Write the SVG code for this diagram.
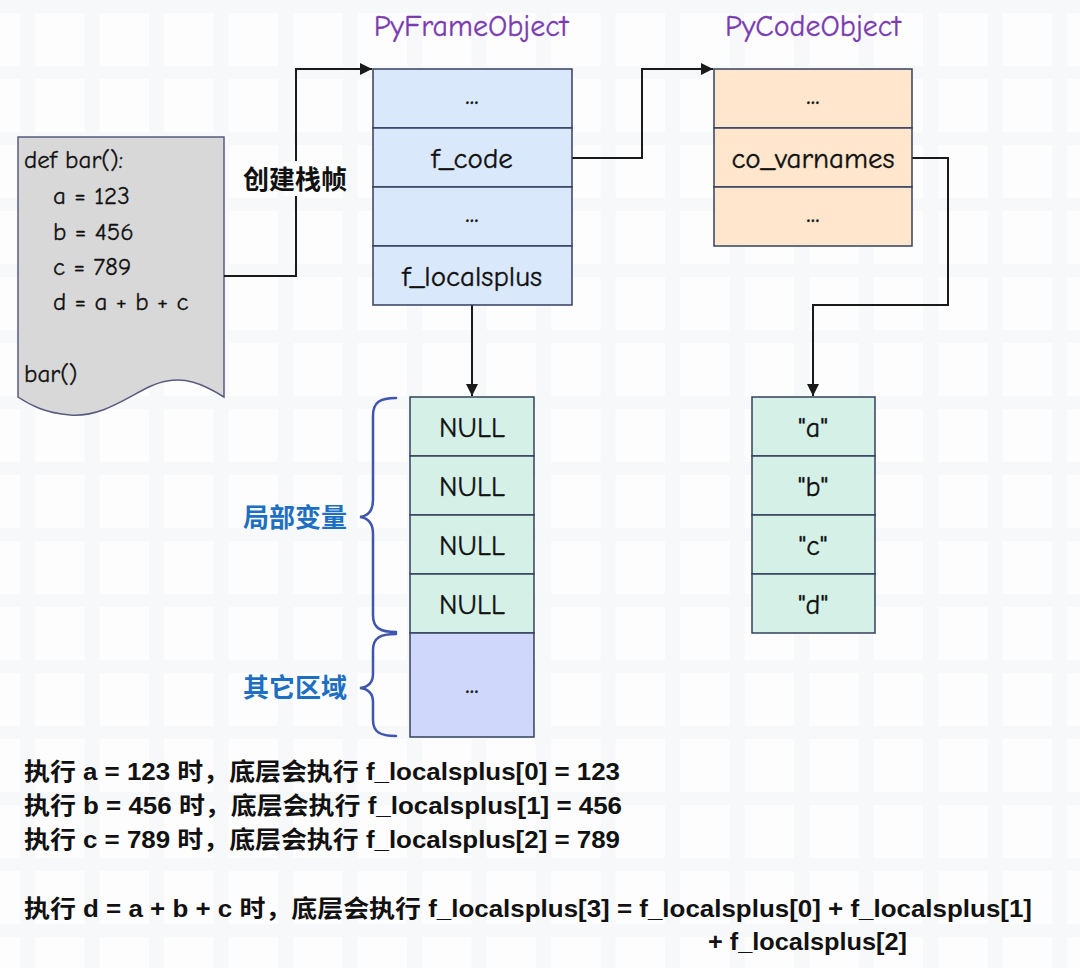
<svg xmlns="http://www.w3.org/2000/svg" width="1080" height="968" viewBox="0 0 1080 968">
<style>
.cell{stroke:#34405e;stroke-width:1.5}
.frame{fill:#dae8fc}
.code{fill:#ffe6cc}
.mint{fill:#d4f0e7}
.lav{fill:#cfd7fa}
.t{font-family:"Comic Neue","Lato","Liberation Sans",sans-serif;font-size:29px;fill:#111;text-anchor:middle;stroke:#111;stroke-width:0.35}
.s{font-size:28px}
.src{font-family:"Comic Neue","Lato","Liberation Sans",sans-serif;font-size:25px;fill:#111;stroke:#111;stroke-width:0.3}
.title{font-family:"Comic Neue","Lato","Liberation Sans",sans-serif;font-size:30px;fill:#7a3cb0;text-anchor:middle;stroke:#7a3cb0;stroke-width:0.3}
.conn{fill:none;stroke:#1a1a1a;stroke-width:2}
.brace{fill:none;stroke:#3f55ae;stroke-width:2.5;stroke-linecap:round}
.cn{font-family:"Noto Sans CJK SC",sans-serif;font-weight:bold;font-size:26px}
.note{font-family:"Liberation Sans","Noto Sans CJK SC",sans-serif;font-weight:bold;font-size:24px;fill:#111}
</style>
<defs>
<pattern id="grid" width="64.5" height="66" patternUnits="userSpaceOnUse" x="20" y="0">
<rect width="64.5" height="66" fill="#fdfdfd"/>
<rect x="0" y="0" width="15" height="66" fill="#f7f8f9"/>
<rect x="0" y="0" width="64.5" height="13" fill="#f7f8f9"/>
</pattern>
<marker id="arr" viewBox="0 0 10 10" refX="10" refY="5" markerWidth="6" markerHeight="6" orient="auto" markerUnits="strokeWidth">
<path d="M0,0 L10,5 L0,10 z" fill="#1a1a1a"/>
</marker>
</defs>
<rect width="1080" height="968" fill="url(#grid)"/>

<g id="code-doc">
<path d="M18,137 H224 V397 C200,382 185,378 167,381 C140,385 110,418 70,415 C45,413 30,405 18,397 Z" fill="#d8d8d8" stroke="#5a5a80" stroke-width="1.5"/>
<text class="src" x="24" y="168">def bar():</text>
<text class="src" x="53" y="204">a = 123</text>
<text class="src" x="53" y="240">b = 456</text>
<text class="src" x="53" y="275">c = 789</text>
<text class="src" x="53" y="310">d = a + b + c</text>
<text class="src" x="24" y="382">bar()</text>
</g>

<g id="connectors">
<path class="conn" d="M224,276 H296 V69 H372" marker-end="url(#arr)"/>
<path class="conn" d="M572,158 H642 V69 H713" marker-end="url(#arr)"/>
<path class="conn" d="M912,158 H948 V305 H813 V396" marker-end="url(#arr)"/>
<path class="conn" d="M472,305 V396" marker-end="url(#arr)"/>
<rect x="284" y="161" width="24" height="35" fill="#fdfdfd"/>
<text class="cn" x="295" y="189" text-anchor="middle" fill="#111">创建栈帧</text>
</g>

<g id="pyframe">
<text class="title" x="471" y="36">PyFrameObject</text>
<rect class="cell frame" x="373" y="69" width="199" height="59"/>
<rect class="cell frame" x="373" y="128" width="199" height="59"/>
<rect class="cell frame" x="373" y="187" width="199" height="59"/>
<rect class="cell frame" x="373" y="246" width="199" height="59"/>
<text class="t" x="472" y="104">...</text>
<text class="t" x="472" y="168">f_code</text>
<text class="t" x="472" y="222">...</text>
<text class="t" x="472" y="286">f_localsplus</text>
</g>

<g id="pycode">
<text class="title" x="813" y="36">PyCodeObject</text>
<rect class="cell code" x="714" y="69" width="198" height="59"/>
<rect class="cell code" x="714" y="128" width="198" height="59"/>
<rect class="cell code" x="714" y="187" width="198" height="59"/>
<text class="t" x="813" y="104">...</text>
<text class="t" x="813" y="168">co_varnames</text>
<text class="t" x="813" y="222">...</text>
</g>

<g id="localsplus">
<rect class="cell mint" x="410" y="397" width="124" height="59"/>
<rect class="cell mint" x="410" y="456" width="124" height="59"/>
<rect class="cell mint" x="410" y="515" width="124" height="59"/>
<rect class="cell mint" x="410" y="574" width="124" height="59"/>
<rect class="cell lav" x="410" y="633" width="124" height="104"/>
<text class="t s" x="472" y="437">NULL</text>
<text class="t s" x="472" y="496">NULL</text>
<text class="t s" x="472" y="555">NULL</text>
<text class="t s" x="472" y="614">NULL</text>
<text class="t" x="472" y="693">...</text>
</g>

<g id="varnames">
<rect class="cell mint" x="752" y="397" width="123" height="59"/>
<rect class="cell mint" x="752" y="456" width="123" height="59"/>
<rect class="cell mint" x="752" y="515" width="123" height="59"/>
<rect class="cell mint" x="752" y="574" width="123" height="59"/>
<text class="t s" x="813" y="437">"a"</text>
<text class="t s" x="813" y="496">"b"</text>
<text class="t s" x="813" y="555">"c"</text>
<text class="t s" x="813" y="614">"d"</text>
</g>

<g id="brace-locals">
<path class="brace" d="M396,398 C380,398 373,402 373,416 V500 C373,511 368,516 360,517 C368,518 373,523 373,534 V615 C373,628 380,632 396,632"/>
<text class="cn" x="347" y="527" text-anchor="end" fill="#1c6fc2">局部变量</text>
</g>

<g id="brace-other">
<path class="brace" d="M396,634 C380,634 373,638 373,650 V674 C373,683 368,687 360,688 C368,689 373,693 373,702 V720 C373,732 380,736 396,736"/>
<text class="cn" x="347" y="697" text-anchor="end" fill="#1c6fc2">其它区域</text>
</g>

<g id="notes">
<text class="note" x="24" y="780" textLength="596" lengthAdjust="spacingAndGlyphs">执行 a = 123 时，底层会执行 f_localsplus[0] = 123</text>
<text class="note" x="24" y="814" textLength="598" lengthAdjust="spacingAndGlyphs">执行 b = 456 时，底层会执行 f_localsplus[1] = 456</text>
<text class="note" x="24" y="848" textLength="596" lengthAdjust="spacingAndGlyphs">执行 c = 789 时，底层会执行 f_localsplus[2] = 789</text>
<text class="note" x="24" y="917" textLength="1008" lengthAdjust="spacingAndGlyphs">执行 d = a + b + c 时，底层会执行 f_localsplus[3] = f_localsplus[0] + f_localsplus[1]</text>
<text class="note" x="708" y="950" textLength="199" lengthAdjust="spacingAndGlyphs">+ f_localsplus[2]</text>
</g>
</svg>
